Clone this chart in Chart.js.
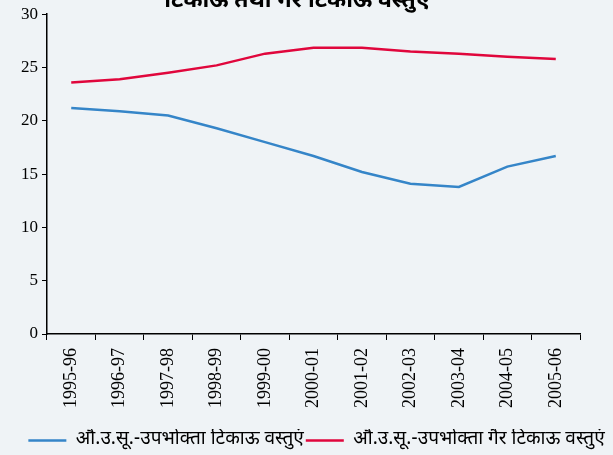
<!doctype html>
<html lang="hi">
<head>
    <title>टिकाऊ तथा गैर टिकाऊ वस्तुएं</title>
    <meta charset="UTF-8" />
    <style>
        html, body { margin: 0; padding: 0; background: #eff3f6; }
        #wrap { width: 613px; height: 455px; position: relative; }
    </style>
</head>
<body>
<div id="wrap">
    <canvas id="myChart" width="613" height="455"></canvas>
</div>
<script src="https://cdn.jsdelivr.net/npm/chart.js"></script>

<script>
    const years = ['1995-96', '1996-97', '1997-98', '1998-99', '1999-00', '2000-01',
                   '2001-02', '2002-03', '2003-04', '2004-05', '2005-06'];
    const durable = [21.2, 20.9, 20.5, 19.3, 18.0, 16.7, 15.2, 14.1, 13.8, 15.7, 16.7];
    const nonDurable = [23.6, 23.9, 24.5, 25.2, 26.3, 26.85, 26.85, 26.5, 26.3, 26.0, 25.8];
    const seriesNames = ['औ.उ.सू.-उपभोक्ता टिकाऊ वस्तुएं', 'औ.उ.सू.-उपभोक्ता गैर टिकाऊ वस्तुएं'];
    const titleText = 'टिकाऊ तथा गैर टिकाऊ वस्तुएं';

    const serif = "'Liberation Serif', 'Times New Roman', serif";
    const deva = "'Noto Sans Devanagari', 'Noto Sans', 'DejaVu Sans', sans-serif";

    // title is cut off at the top edge in the original
    const cutTitle = {
        id: 'cutTitle',
        beforeDraw(chart) {
            // nudge legend to where it sits in the original
            const lg = chart.legend;
            lg.top += 5; lg.bottom += 5;
            lg.left += 10; lg.right += 10;
        },
        afterDraw(chart) {
            const c = chart.ctx;
            c.save();
            c.font = 'bold 23px ' + deva;
            c.fillStyle = '#000';
            c.textAlign = 'center';
            c.textBaseline = 'alphabetic';
            c.fillText(titleText, 297, 7);
            c.restore();
        }
    };

    const ctx = document.getElementById('myChart');
    chart = new Chart(ctx, {
        type: 'line',
        data: {
            labels: years,
            datasets: [{
                label: seriesNames[0],
                data: durable,
                borderColor: '#3585c8',
                backgroundColor: '#3585c8',
                borderWidth: 2.5,
                pointRadius: 0,
                tension: 0
            }, {
                label: seriesNames[1],
                data: nonDurable,
                borderColor: '#e0063c',
                backgroundColor: '#e0063c',
                borderWidth: 2.5,
                pointRadius: 0,
                tension: 0
            }]
        },
        plugins: [cutTitle],
        options: {
            responsive: false,
            animation: false,
            layout: { padding: { left: 0, right: 0, top: 0, bottom: 0 } },
            plugins: {
                title: { display: false },
                tooltip: { enabled: false },
                legend: {
                    position: 'bottom',
                    labels: {
                        usePointStyle: true,
                        pointStyle: 'line',
                        pointStyleWidth: 38,
                        padding: 2,
                        color: '#000',
                        font: { family: deva, size: 19 }
                    }
                }
            },
            scales: {
                x: {
                    offset: true,
                    afterFit: function (scale) { scale.height += 8; },
                    grid: { offset: true, drawOnChartArea: false, drawTicks: true, tickLength: 6, color: '#000' },
                    border: { color: '#000', width: 1.5 },
                    ticks: {
                        color: '#000',
                        maxRotation: 90,
                        minRotation: 90,
                        padding: 8,
                        font: { family: serif, size: 18 }
                    }
                },
                y: {
                    min: 0,
                    max: 30,
                    afterFit: function (scale) { scale.width = 47; },
                    grid: { drawOnChartArea: false, drawTicks: true, tickLength: 5, color: '#000' },
                    border: { color: '#000', width: 1.5 },
                    ticks: {
                        stepSize: 5,
                        color: '#000',
                        padding: 4,
                        font: { family: serif, size: 17 }
                    }
                },
                // empty right-hand strip, keeps the plot ending where the original does
                spacer: {
                    type: 'linear',
                    position: 'right',
                    afterFit: function (scale) { scale.width = 33; },
                    grid: { display: false },
                    border: { display: false },
                    ticks: { display: false }
                }
            }
        }
    });
</script>
</body>
</html>
